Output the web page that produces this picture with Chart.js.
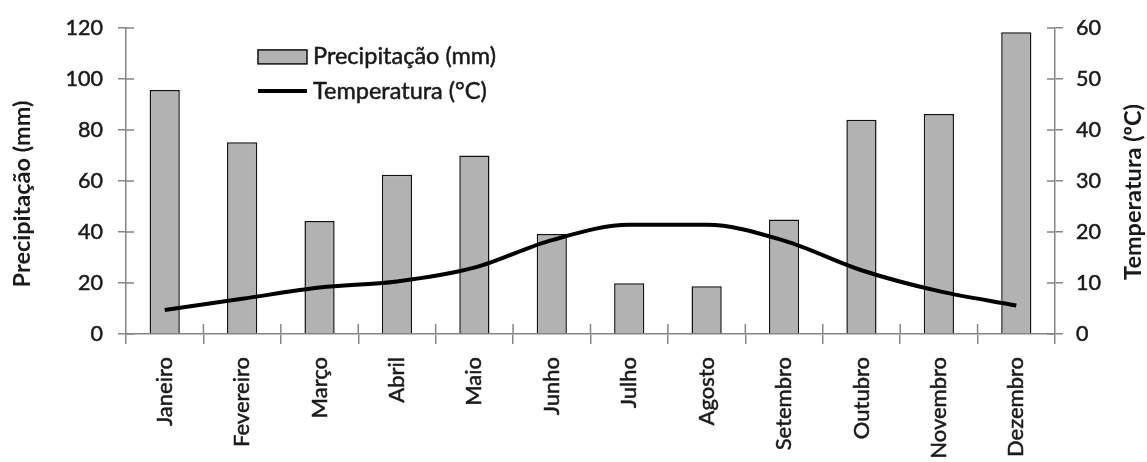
<!DOCTYPE html>
<html>
<head>
<meta charset="utf-8">
<script src="https://cdn.jsdelivr.net/npm/chart.js@4.4.0/dist/chart.umd.min.js"></script>
<style>
  html, body { margin: 0; padding: 0; background: #fff; }
  #wrap { width: 1147px; height: 462px; }
</style>
</head>
<body>
<div id="wrap"><canvas id="clima"></canvas></div>
<script>
const meses = ['Janeiro', 'Fevereiro', 'Março', 'Abril', 'Maio', 'Junho',
               'Julho', 'Agosto', 'Setembro', 'Outubro', 'Novembro', 'Dezembro'];
const precipitacao = [95.7, 75.2, 44.3, 62.4, 70.0, 39.2, 19.9, 18.7, 44.9, 84.0, 86.2, 118.3];
const temperatura = [4.7, 6.9, 9.1, 10.3, 13.0, 18.4, 21.4, 21.4, 18.3, 12.5, 8.4, 5.6];

const tituloPrecip = 'Precipitação (mm)';
const tituloTemp = 'Temperatura (ºC)';

const FONTE = 'Lato, "Open Sans", sans-serif';
const COR_TEXTO = '#1a1a1a';
const COR_EIXO = '#858585';
const COR_BARRA = '#b2b2b2';

// tick marks that cross the axis line (Chart.js only draws the outer half)
const ticksCruzados = {
    id: 'ticksCruzados',
    beforeDatasetsDraw(chart) {
        const { ctx, chartArea, scales } = chart;
        ctx.save();
        ctx.strokeStyle = COR_EIXO;
        ctx.lineWidth = 1.5;
        ctx.beginPath();
        scales.y.ticks.forEach((t, i) => {
            const py = scales.y.getPixelForTick(i);
            ctx.moveTo(chartArea.left, py);
            ctx.lineTo(chartArea.left + 8, py);
        });
        scales.y1.ticks.forEach((t, i) => {
            const py = scales.y1.getPixelForTick(i);
            ctx.moveTo(chartArea.right, py);
            ctx.lineTo(chartArea.right - 8, py);
        });
        for (let i = 1; i < meses.length; i++) {
            const px = (scales.x.getPixelForValue(i - 1) + scales.x.getPixelForValue(i)) / 2;
            ctx.moveTo(px, chartArea.bottom);
            ctx.lineTo(px, chartArea.bottom - 10);
        }
        ctx.stroke();
        ctx.restore();
    }
};

// axis titles, both reading bottom to top
const titulosEixos = {
    id: 'titulosEixos',
    afterDraw(chart) {
        const { ctx, chartArea, scales } = chart;
        const meio = (chartArea.top + chartArea.bottom) / 2;
        ctx.save();
        ctx.fillStyle = COR_TEXTO;
        ctx.font = 'bold 23.5px ' + FONTE;
        ctx.textAlign = 'center';
        ctx.textBaseline = 'middle';

        ctx.save();
        ctx.translate(scales.y.left + 22, meio + 13);
        ctx.rotate(-Math.PI / 2);
        ctx.fillText(tituloPrecip, 0, 0);
        ctx.restore();

        ctx.save();
        ctx.translate(scales.y1.right - 14, meio + 11);
        ctx.rotate(-Math.PI / 2);
        ctx.fillText(tituloTemp, 0, 0);
        ctx.restore();

        ctx.restore();
    }
};

// legend inside the plot, top left
const legendaInterna = {
    id: 'legendaInterna',
    afterDraw(chart) {
        const { ctx, chartArea } = chart;
        const x0 = chartArea.left + 132;
        const larg = 49;
        const yBarra = chartArea.top + 29;
        const yLinha = chartArea.top + 63;
        const dsBarra = chart.data.datasets[0];
        const dsLinha = chart.data.datasets[1];
        ctx.save();
        ctx.fillStyle = dsBarra.backgroundColor;
        ctx.strokeStyle = dsBarra.borderColor;
        ctx.lineWidth = 1.5;
        ctx.fillRect(x0, yBarra - 7, larg, 14);
        ctx.strokeRect(x0, yBarra - 7, larg, 14);

        ctx.strokeStyle = dsLinha.borderColor;
        ctx.lineWidth = 4;
        ctx.beginPath();
        ctx.moveTo(x0, yLinha);
        ctx.lineTo(x0 + larg, yLinha);
        ctx.stroke();

        ctx.fillStyle = COR_TEXTO;
        ctx.strokeStyle = COR_TEXTO;
        ctx.lineWidth = 0.5;
        ctx.font = '23.5px ' + FONTE;
        ctx.textBaseline = 'middle';
        [[dsBarra.label, yBarra], [dsLinha.label, yLinha + 1]].forEach(([txt, y]) => {
            ctx.fillText(txt, x0 + larg + 6, y);
            ctx.strokeText(txt, x0 + larg + 6, y);
        });
        ctx.restore();
    }
};

const estiloTicks = {
    color: COR_TEXTO,
    textStrokeColor: COR_TEXTO,
    textStrokeWidth: 0.5
};

new Chart(document.getElementById('clima'), {
    data: {
        labels: meses,
        datasets: [
            {
                type: 'bar',
                label: 'Precipitação (mm)',
                data: precipitacao,
                yAxisID: 'y',
                backgroundColor: COR_BARRA,
                borderColor: '#111',
                borderWidth: 1.5,
                categoryPercentage: 1,
                barPercentage: 0.39,
                order: 2
            },
            {
                type: 'line',
                label: 'Temperatura (°C)',
                data: temperatura,
                yAxisID: 'y1',
                borderColor: '#000',
                borderWidth: 4,
                pointRadius: 0,
                cubicInterpolationMode: 'monotone',
                fill: false,
                order: 1
            }
        ]
    },
    options: {
        responsive: true,
        maintainAspectRatio: false,
        animation: false,
        layout: { padding: { top: 26, left: 0, right: 0, bottom: 0 } },
        plugins: {
            legend: { display: false },
            tooltip: { enabled: false }
        },
        scales: {
            x: {
                grid: { drawOnChartArea: false, color: COR_EIXO, lineWidth: 1.5, tickLength: 10, offset: true },
                border: { color: COR_EIXO, width: 1.5 },
                ticks: {
                    ...estiloTicks,
                    font: { family: FONTE, size: 22 },
                    minRotation: 90,
                    maxRotation: 90,
                    padding: 13,
                    autoSkip: false
                },
                afterFit(scale) { scale.height = 128; }
            },
            y: {
                position: 'left',
                min: 0,
                max: 120,
                ticks: {
                    ...estiloTicks,
                    stepSize: 20,
                    font: { family: FONTE, size: 21.5 },
                    padding: 15
                },
                grid: { drawOnChartArea: false, color: COR_EIXO, lineWidth: 1.5, tickLength: 8 },
                border: { color: COR_EIXO, width: 1.5 },
                afterFit(scale) { scale.width = 126; }
            },
            y1: {
                position: 'right',
                min: 0,
                max: 60,
                ticks: {
                    ...estiloTicks,
                    stepSize: 10,
                    font: { family: FONTE, size: 21.5 },
                    padding: 13
                },
                grid: { drawOnChartArea: false, color: COR_EIXO, lineWidth: 1.5, tickLength: 8 },
                border: { color: COR_EIXO, width: 1.5 },
                afterFit(scale) { scale.width = 92; }
            }
        }
    },
    plugins: [ticksCruzados, titulosEixos, legendaInterna]
});
</script>
</body>
</html>
